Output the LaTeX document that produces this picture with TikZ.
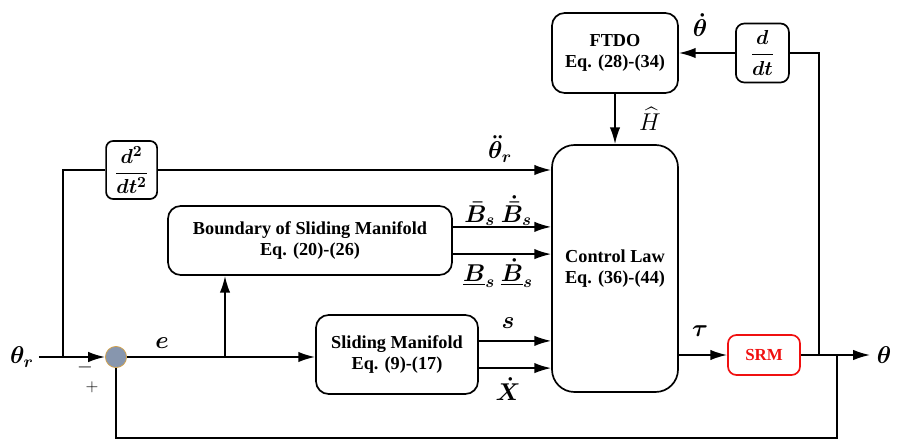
\documentclass[tikz,border=0pt]{standalone}
\usepackage{amsmath,amssymb}
\usepackage{fontspec}
\setmainfont{Liberation Serif}
\usetikzlibrary{arrows.meta,calc,positioning}
\definecolor{SumFill}{HTML}{8796AE}
\definecolor{SumEdge}{HTML}{D4A24A}
\definecolor{PlantRed}{HTML}{F01010}

\begin{document}
\begin{tikzpicture}[
    font=\fontsize{13}{15}\selectfont\bfseries,
    box/.style={draw,line width=1.2pt,rounded corners=6pt,align=center,inner sep=2pt},
    wire/.style={line width=1.2pt},
    arr/.style={-{Latex[length=4.2mm,width=2.6mm]},line width=1.2pt},
    sig/.style={font=\fontsize{17}{19}\selectfont}
  ]
    \useasboundingbox (0,0) rectangle (22.575,11.025);

    % blocks
    \node[circle,draw=SumEdge,fill=SumFill,line width=0.5pt,minimum size=0.53cm,inner sep=0pt] (sum) at (2.9,2.1) {};
    \node[box,minimum width=1.275cm,minimum height=1.45cm,rounded corners=5pt,font=\fontsize{15}{17}\selectfont] (d2) at (3.29,6.775) {$\boldsymbol{\dfrac{d^2}{dt^2}}$};
    \node[box,minimum width=3.15cm,minimum height=6.175cm,rounded corners=16pt] (law) at (15.375,4.3125) {Control Law\\Eq. (36)-(44)};
    \node[box,minimum width=7.1cm,minimum height=1.725cm,rounded corners=9pt] (bound) at (7.75,5.0125) {Boundary of Sliding Manifold\\Eq. (20)-(26)};
    \node[box,minimum width=4.05cm,minimum height=1.975cm,rounded corners=9pt] (slide) at (9.925,2.1625) {Sliding Manifold\\Eq. (9)-(17)};
    \node[box,minimum width=3.15cm,minimum height=2.0cm,rounded corners=9pt] (ftdo) at (15.375,9.7) {FTDO\\Eq. (28)-(34)};
    \node[box,minimum width=1.325cm,minimum height=1.475cm,rounded corners=6pt,font=\fontsize{15}{17}\selectfont] (ddt) at (19.06,9.7) {$\boldsymbol{\dfrac{d}{dt}}$};
    \node[box,draw=PlantRed,text=PlantRed,minimum width=1.8cm,minimum height=1.0cm,font=\fontsize{12}{14}\selectfont\bfseries] (srm) at (19.1,2.15) {SRM};

    % points
    \node[sig] (thr) at (0.55,2.1) {$\boldsymbol{\theta_r}$};
    \coordinate (rbr) at (1.575,2.1);
    \coordinate (ebr) at (5.625,2.1);
    \coordinate (dbr) at (20.475,2.15);
    \coordinate (fbr) at (20.925,2.15);
    \coordinate (out) at (21.75,2.15);
    \node[sig,right=0.05cm of out] (th) {$\boldsymbol{\theta}$};

    % connectors
    \draw[arr] (thr.east) -- (sum.west);
    \draw[wire] (rbr) |- (d2.west);
    \draw[arr] (d2.east) -- (d2.east -| law.west);
    \draw[arr] ([yshift=0.34cm]bound.east) -- ([yshift=0.34cm]bound.east -| law.west);
    \draw[arr] ([yshift=-0.34cm]bound.east) -- ([yshift=-0.34cm]bound.east -| law.west);
    \draw[arr] ([yshift=0.34cm]slide.east) -- ([yshift=0.34cm]slide.east -| law.west);
    \draw[arr] ([yshift=-0.34cm]slide.east) -- ([yshift=-0.34cm]slide.east -| law.west);
    \draw[arr] (sum.east) -- (sum.east -| slide.west);
    \draw[arr] (ebr) -- (ebr |- bound.south);
    \draw[arr] (srm.west -| law.east) -- (srm.west);
    \draw[arr] (srm.east) -- (out);
    \draw[wire] (dbr) |- (ddt.east);
    \draw[arr] (ddt.west) -- (ddt.west -| ftdo.east);
    \draw[arr] (ftdo.south) -- (law.north);
    \draw[wire] (fbr) -- ++(0,-2.075) -| (sum.south);

    % signal labels
    \node[sig] at (12.5,7.3) {$\boldsymbol{\ddot{\theta}_r}$};
    \node[sig] at (12.45,5.75) {$\boldsymbol{\bar{B}_s}\ \boldsymbol{\dot{\bar{B}}_s}$};
    \node[sig] at (12.45,4.2) {$\underline{\boldsymbol{B}}_{\boldsymbol{s}}\ \underline{\boldsymbol{\dot{B}}}_{\boldsymbol{s}}$};
    \node[sig] at (12.7,2.95) {$\boldsymbol{s}$};
    \node[sig] at (12.7,1.3) {$\boldsymbol{\dot{X}}$};
    \node[sig] at (4.05,2.45) {$\boldsymbol{e}$};
    \node[sig] at (17.5,2.75) {$\boldsymbol{\tau}$};
    \node[sig] at (17.5,10.4) {$\boldsymbol{\dot{\theta}}$};
    \node[font=\fontsize{16}{18}\selectfont] at (16.25,8.05) {$\widehat{H}$};
    \node[font=\fontsize{14}{16}\selectfont] at (2.125,1.85) {$-$};
    \node[font=\fontsize{13}{15}\selectfont] at (2.3,1.35) {$+$};
  \end{tikzpicture}
\end{document}
